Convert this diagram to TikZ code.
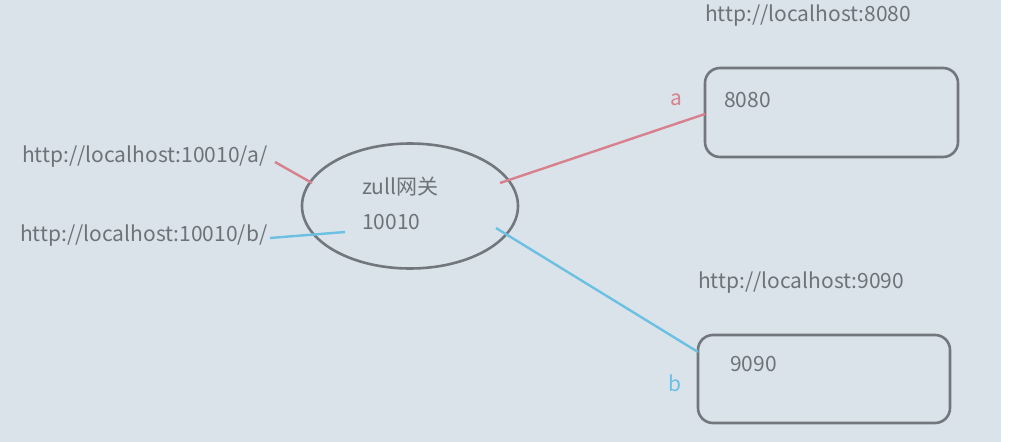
\documentclass[tikz,border=0pt]{standalone}
\usepackage{fontspec}
\setmainfont{Noto Sans CJK SC}
\usetikzlibrary{shapes.geometric}
\definecolor{bg}{HTML}{DAE3EA}
\definecolor{ln}{HTML}{72777D}
\definecolor{tx}{HTML}{6E7379}
\definecolor{rd}{HTML}{D8808C}
\definecolor{bl}{HTML}{6CC0E2}
\begin{document}
\begin{tikzpicture}[x=1pt,y=-1pt,
  lbl/.style={text=tx,font=\fontsize{21}{24}\selectfont,inner sep=0pt,anchor=west},
  srv/.style={draw=ln,line width=2.6pt,rounded corners=15pt},
  redl/.style={draw=rd,line width=2.4pt},
  bluel/.style={draw=bl,line width=2.4pt}]
\fill[white] (0,0) rectangle (1010,442);
\fill[bg] (0,0) rectangle (1001,442);
\useasboundingbox (0,0) rectangle (1010,442);
% gateway
\node[ellipse,draw=ln,line width=2.6pt,minimum width=216pt,minimum height=125pt] (g) at (410,206) {};
\node[lbl] (gt1) at (362,187) {zull网关};
\node[lbl] (gt2) at (362,222) {10010};
% servers
\draw[srv] (705,68) rectangle (958,157);
\node[minimum width=253pt,minimum height=89pt,inner sep=0pt] (s1) at (831.5,112.5) {};
\draw[srv] (698,335) rectangle (950,423);
\node[minimum width=252pt,minimum height=88pt,inner sep=0pt] (s2) at (824,379) {};
\node[lbl] (s1t) at (724,100) {8080};
\node[lbl] (s2t) at (730,364) {9090};
\node[lbl] (u1) at (705,16) {http://localhost:8080};
\node[lbl] (u2) at (698,283) {http://localhost:9090};
\node[lbl] (ua) at (22,157) {http://localhost:10010/a/};
\node[lbl] (ub) at (20,236) {http://localhost:10010/b/};
\node[lbl,text=rd] (la) at (670,100) {a};
\node[lbl,text=bl] (lb) at (668,383) {b};
% connectors
\coordinate (ra1) at (275,162);
\coordinate (ra2) at (312,183);
\coordinate (ra3) at (500,183);
\coordinate (ra4) at (705,114);
\coordinate (bb1) at (270,238);
\coordinate (bb2) at (345,232);
\coordinate (bb3) at (496,228);
\coordinate (bb4) at (698,352);
\draw[redl] (ra1) -- (ra2);
\draw[redl] (ra3) -- (ra4);
\draw[bluel] (bb1) -- (bb2);
\draw[bluel] (bb3) -- (bb4);
\end{tikzpicture}
\end{document}
